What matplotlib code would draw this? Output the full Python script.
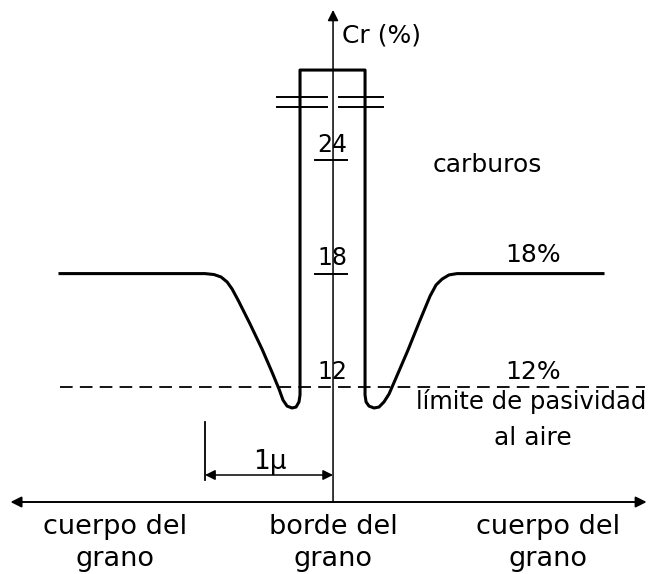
import matplotlib.pyplot as plt

# Perfil de Cr a traves del borde de grano (distancia en micras, Cr en %)
dist = [-2.133, -1.0, -0.930, -0.875, -0.828, -0.789, -0.742, -0.648, -0.555,
        -0.477, -0.422, -0.391, -0.359, -0.320, -0.289, -0.266, -0.258, -0.258,
        0.25, 0.25, 0.258, 0.281, 0.320, 0.359, 0.398, 0.4375, 0.492, 0.586,
        0.680, 0.758, 0.805, 0.852, 0.906, 0.969, 2.109]
cr = [18.0, 18.0, 17.95, 17.82, 17.56, 17.19, 16.60, 15.33, 14.01,
      12.79, 11.89, 11.31, 10.99, 10.89, 10.94, 11.21, 11.58, 28.77,
      28.77, 11.58, 11.21, 10.99, 10.89, 10.94, 11.21, 11.63, 12.48, 13.96,
      15.54, 16.81, 17.40, 17.71, 17.93, 18.0, 18.0]

cr_ticks = [24, 18, 12]
limite_pasividad = 12
cr_matriz = 18

plt.rcParams['font.family'] = 'DejaVu Sans'

fig = plt.figure(figsize=(6.52, 5.74), dpi=100)
ax = fig.add_axes([0, 0, 1, 1])
ax.set_xlim(-2.602, 2.492)
ax.set_ylim(2.106, 32.476)
ax.axis('off')

y_axis = 5.915  # altura del eje horizontal

# eje horizontal con flechas a ambos lados
ax.annotate('', xy=(-2.52, y_axis), xytext=(0, y_axis),
            arrowprops=dict(arrowstyle='-|>', color='black', lw=1.4,
                            mutation_scale=16, shrinkA=0, shrinkB=0))
ax.annotate('', xy=(2.45, y_axis), xytext=(0, y_axis),
            arrowprops=dict(arrowstyle='-|>', color='black', lw=1.4,
                            mutation_scale=16, shrinkA=0, shrinkB=0))
# eje vertical
ax.annotate('', xy=(0, 31.95), xytext=(0, y_axis),
            arrowprops=dict(arrowstyle='-|>', color='black', lw=1.1,
                            mutation_scale=16, shrinkA=0, shrinkB=0))
ax.text(0.07, 30.62, 'Cr (%)', fontsize=18, ha='left', va='center')

# limite de pasividad
ax.plot([-2.133, 2.4375], [limite_pasividad, limite_pasividad], color='black',
        lw=1.3, dashes=(7, 4))

# perfil
ax.plot(dist, cr, color='black', lw=2.2, solid_joinstyle='round')

# marcas de corte del eje
for yb in (27.34, 26.81):
    ax.plot([-0.4375, -0.045], [yb, yb], color='black', lw=1.4)
    ax.plot([0.045, 0.39], [yb, yb], color='black', lw=1.4)

# ticks y etiquetas del eje Cr
for t in cr_ticks:
    if t != limite_pasividad:
        ax.plot([-0.14, 0.11], [t, t], color='black', lw=1.4)
    ax.text(-0.008, t + 0.8, str(t), fontsize=17, ha='center', va='center')

ax.text(1.203, 23.75, 'carburos', fontsize=18, ha='center', va='center')
ax.text(1.5625, cr_matriz + 0.98, '%d%%' % cr_matriz, fontsize=18,
        ha='center', va='center')
ax.text(1.5625, limite_pasividad + 0.79, '%d%%' % limite_pasividad,
        fontsize=18, ha='center', va='center')
ax.text(1.55, 11.21, 'límite de pasividad', fontsize=17.5, ha='center',
        va='center')
ax.text(1.56, 9.30, 'al aire', fontsize=18, ha='center', va='center')

# cota de 1 micra
ax.plot([-1, -1], [7.08, 10.15], color='black', lw=1.3)
ax.annotate('', xy=(-1, 7.344), xytext=(0, 7.344),
            arrowprops=dict(arrowstyle='<|-|>', color='black', lw=1.1,
                            mutation_scale=15, shrinkA=0, shrinkB=0))
ax.text(-0.492, 8.03, '1μ', fontsize=19, ha='center', va='center')

# rotulos del eje horizontal
for xc, lab in [(-1.703, 'cuerpo del\ngrano'), (0, 'borde del\ngrano'),
                (1.68, 'cuerpo del\ngrano')]:
    ax.text(xc, 3.75, lab, fontsize=19.5, ha='center', va='center',
            linespacing=1.3)

fig.savefig('out.png', dpi=100)
